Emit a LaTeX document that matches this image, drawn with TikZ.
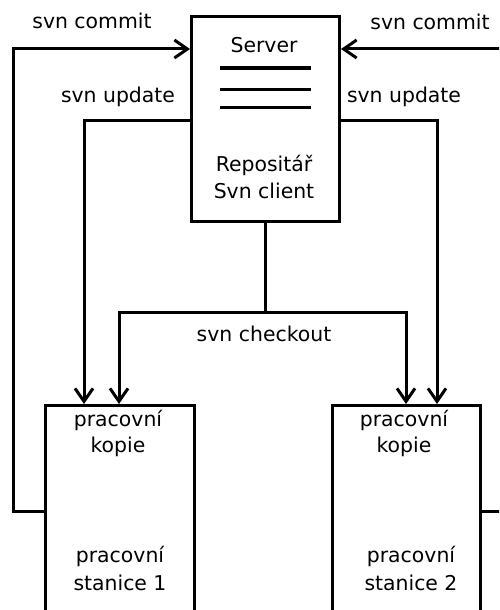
\documentclass[tikz,border=0pt]{standalone}
\usepackage{fontspec}
\setmainfont{DejaVu Sans}
\usetikzlibrary{arrows.meta}
\begin{document}
\begin{tikzpicture}[x=1pt,y=-1pt,
  wire/.style={line width=3pt},
  arr/.style={wire,-{Straight Barb[length=13pt,width=18pt,line width=3pt]}},
  box/.style={draw,line width=3pt,anchor=north west,inner sep=0pt},
  lbl/.style={font=\fontsize{20.4}{24}\selectfont,inner sep=0pt}]
\useasboundingbox (0,0) rectangle (499,610);
\clip (0,0) rectangle (499,610);
% server and the two workstations
\node[box,minimum width=148pt,minimum height=205pt] (srv) at (190,15) {};
\node[box,minimum width=149pt,minimum height=212pt] (ws1) at (44,404) {};
\node[box,minimum width=148pt,minimum height=212pt] (ws2) at (331,404) {};
% repository symbol
\foreach \yy in {68,89,107} \draw[wire] (220,\yy) -- (311,\yy);
% texts
\node[lbl] (tsrv) at (264,45) {Server};
\node[lbl] (trep) at (264,165) {Repositář};
\node[lbl] (tcli) at (264,191) {Svn client};
\node[lbl] (tk1a) at (118,420) {pracovní};
\node[lbl] (tk1b) at (118,447) {kopie};
\node[lbl] (ts1a) at (120,556) {pracovní};
\node[lbl] (ts1b) at (120,583) {stanice 1};
\node[lbl] (tk2a) at (404,420) {pracovní};
\node[lbl] (tk2b) at (404,447) {kopie};
\node[lbl] (ts2a) at (411,556) {pracovní};
\node[lbl] (ts2b) at (411,583) {stanice 2};
\node[lbl] (tc1) at (92,21) {svn commit};
\node[lbl] (tc2) at (430,22) {svn commit};
\node[lbl] (tu1) at (118,97) {svn update};
\node[lbl] (tu2) at (404,97) {svn update};
\node[lbl] (tco) at (264,334) {svn checkout};
% bend points
\coordinate (cl) at (13,49);
\coordinate (cr) at (504,49);
\coordinate (ul) at (84,120);
\coordinate (ur) at (437,120);
\coordinate (k1) at (119,312);
\coordinate (k2) at (406,312);
% svn commit
\draw[arr] (ws1.west) -| (cl) -- (cl -| srv.west);
\draw[arr] (ws2.east) -| (cr) -- (cr -| srv.east);
% svn update
\draw[arr] (ul -| srv.west) -- (ul) -- (ul |- ws1.north);
\draw[arr] (ur -| srv.east) -- (ur) -- (ur |- ws2.north);
% svn checkout
\draw[wire] (srv.south) -- (srv.south |- k1);
\draw[arr] (k1 -| srv.south) -- (k1) -- (k1 |- ws1.north);
\draw[arr] (k2 -| srv.south) -- (k2) -- (k2 |- ws2.north);
\end{tikzpicture}
\end{document}
